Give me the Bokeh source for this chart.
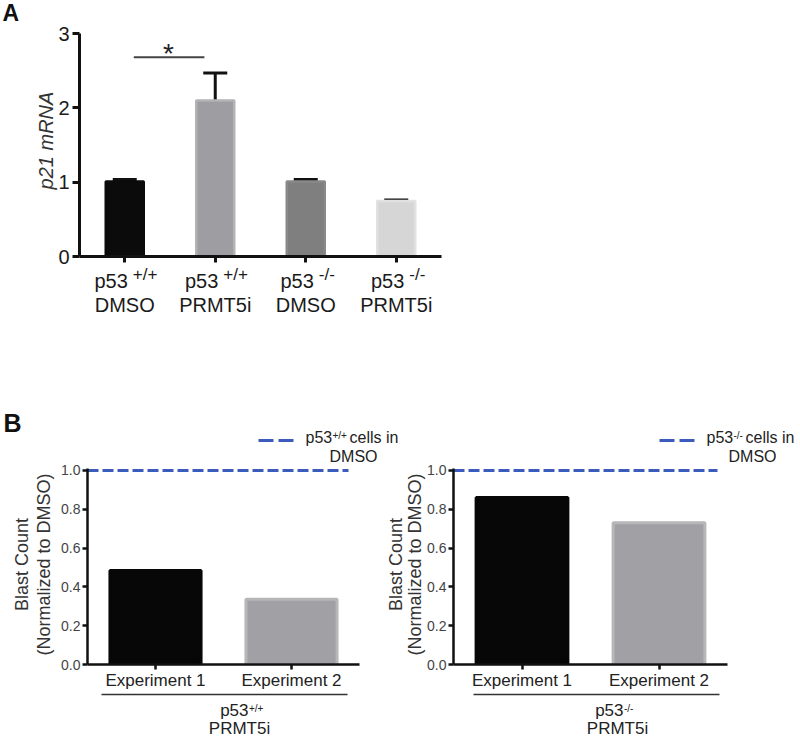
import numpy as np
from bokeh.plotting import figure
from bokeh.models import (Range1d, Whisker, TeeHead, FixedTicker,
                          PrintfTickFormatter, ColumnDataSource)
from bokeh.core.properties import value
from bokeh.layouts import column, row
from bokeh.embed import file_html
from bokeh.resources import INLINE

# ---------------- data ----------------
a_genotypes = ["+/+", "+/+", "-/-", "-/-"]
a_treatments = ["DMSO", "PRMT5i", "DMSO", "PRMT5i"]
a_values = [1.01, 2.10, 1.01, 0.745]
a_errors = [0.025, 0.37, 0.025, 0.015]
a_yticks = [0, 1, 2, 3]
a_ylabel = "p21 mRNA"
a_sig_pair = [0, 1]
a_sig_y = 2.68
a_sig_text = "*"

b_experiments = ["Experiment 1", "Experiment 2"]
b_wt_values = [0.485, 0.336]
b_ko_values = [0.861, 0.731]
b_dmso_level = 1.0
b_yticks = [0.0, 0.2, 0.4, 0.6, 0.8, 1.0]
b_ylabel = ["Blast Count", "(Normalized to DMSO)"]
b_genotypes = ["+/+", "-/-"]
b_treatment = "PRMT5i"
b_legend_text = "cells in"
b_legend_text2 = "DMSO"

# ---------------- styles ----------------
FONT = "Liberation Sans"
BLUE = "#3c5cbd"
a_fill = ["#0b0b0b", "#9e9ea2", "#7e7f7e", "#d6d6d6"]
a_edge = ["#0b0b0b", "#b3b3b5", "#888988", "#e1e1e1"]
b_fill = ["#070707", "#a1a1a5"]
b_edge = ["#070707", "#b7b7b9"]

TOTAL_W = 798


def style_axes(p, lw, tick_out, label_color, standoff_x, standoff_y):
    p.xgrid.visible = False
    p.ygrid.visible = False
    p.outline_line_color = None
    for ax in (p.xaxis[0], p.yaxis[0]):
        ax.axis_line_width = lw
        ax.axis_line_color = "#111111"
        ax.major_tick_line_width = lw
        ax.major_tick_line_color = "#111111"
        ax.major_tick_out = tick_out
        ax.major_tick_in = 0
        ax.minor_tick_line_color = None
        ax.major_label_text_font = FONT
        ax.major_label_text_color = label_color
    p.xaxis.major_label_standoff = standoff_x
    p.yaxis.major_label_standoff = standoff_y


def txt(p, x, ypx, yconv, text, size, color="#1a1a1a", align="left", baseline="alphabetic",
        angle=0.0, style="normal"):
    """ypx: page pixel y of the baseline (alphabetic) or of the middle (middle)."""
    if baseline == "alphabetic":
        ypx = ypx - 0.35 * size
    p.text(x=[x], y=[yconv(ypx)], text=[text], text_font=value(FONT),
           text_font_size=value(f"{size}px"), text_color=color,
           text_align=value(align), text_baseline=value("middle"),
           angle=angle, text_font_style=value(style), level="overlay")


def hline(p, x0, x1, y, color, width, dash="solid"):
    p.segment(x0=[x0], x1=[x1], y0=[y], y1=[y], line_color=color, line_width=width,
              line_dash=dash, level="overlay")


# ================= Panel A =================
A_H = 350
fa = dict(left=79, top=33, right=441, bottom=256)   # frame in page px
nA = len(a_values)
pA = figure(width=TOTAL_W, height=A_H,
            x_range=Range1d(-0.5, nA - 0.5), y_range=Range1d(0, max(a_yticks)),
            output_backend="svg", toolbar_location=None,
            min_border_left=fa["left"], min_border_top=fa["top"],
            min_border_right=TOTAL_W - fa["right"],
            min_border_bottom=A_H - fa["bottom"],
            background_fill_color="white", border_fill_color="white")
sxA = (fa["right"] - fa["left"]) / nA
syA = (fa["bottom"] - fa["top"]) / max(a_yticks)


def ax_(px):
    return -0.5 + (px - fa["left"]) / sxA


def ay_(py):
    return (fa["bottom"] - py) / syA


xa = list(range(nA))
srcA = ColumnDataSource(dict(x=xa, top=a_values,
                             upper=[v + e for v, e in zip(a_values, a_errors)],
                             fill=a_fill, edge=a_edge))
pA.vbar(x="x", top="top", width=0.42, fill_color="fill", line_color="edge",
        line_width=2.5, source=srcA)
pA.add_layout(Whisker(source=srcA, base="x", lower="top", upper="upper",
                      line_width=3, line_color="#111111",
                      upper_head=TeeHead(size=24, line_width=3, line_color="#111111"),
                      lower_head=None))

style_axes(pA, 3, 7, "#1a1a1a", 31, 3)
pA.yaxis.ticker = FixedTicker(ticks=a_yticks)
pA.xaxis.ticker = FixedTicker(ticks=xa)
pA.xaxis.major_tick_out = 6
pA.xaxis.major_label_text_font_size = "20px"
pA.yaxis.major_label_text_font_size = "20px"
pA.xaxis.major_label_overrides = {i: t for i, t in zip(xa, a_treatments)}

# genotype labels "p53" + superscript
for i, g in zip(xa, a_genotypes):
    off = 3 if g == "+/+" else 8
    txt(pA, i + off / sxA, 287, ay_, "p53", 20, align="right")
    txt(pA, i + (off + 5) / sxA, 280, ay_, g, 17, align="left")

# significance bar
i0, i1 = a_sig_pair
pA.segment(x0=[i0 + 0.1], x1=[i1 - 0.12], y0=[a_sig_y], y1=[a_sig_y],
           line_color="#444444", line_width=2)
txt(pA, ax_(168), 53, ay_, a_sig_text, 28, color="#222222", align="center",
    baseline="middle")

# y label and panel letter
txt(pA, ax_(45), 140, ay_, a_ylabel, 20, color="#333333", align="center",
    baseline="middle", angle=np.pi / 2, style="italic")
txt(pA, ax_(2), 21, ay_, "A", 23, color="#111111", style="bold")

# ================= Panel B =================
B_H = 389
B_TOP = A_H               # page y of the B row
F_BOTTOM = 664            # page y of value 0
F_TOP = 468               # page y of frame top
YMAX = 1.01
syB = (F_BOTTOM - F_TOP) / YMAX
SPLIT = 404

b_layouts = [
    dict(values=b_wt_values, geno=b_genotypes[0], fig_left=0, width=SPLIT,
         f_left=87, f_right=359, ref_end=348, dash=(258, 293), leg_x=305, leg_sup=332,
         leg_txt=349, leg_dmso=353, yl=(21, 43), gline=(101, 347), g_p53=248, g_prmt=239,
         letter=True),
    dict(values=b_ko_values, geno=b_genotypes[1], fig_left=SPLIT, width=TOTAL_W - SPLIT,
         f_left=453, f_right=727, ref_end=717, dash=(659, 697), leg_x=706, leg_sup=733,
         leg_txt=745, leg_dmso=752, yl=(395, 414), gline=(473, 719), g_p53=623, g_prmt=617,
         letter=False),
]

b_figs = []
nB = len(b_experiments)
for L in b_layouts:
    w = L["width"]
    p = figure(width=w, height=B_H, x_range=Range1d(-0.5, nB - 0.5), y_range=Range1d(0, YMAX),
               output_backend="svg", toolbar_location=None,
               min_border_left=L["f_left"] - L["fig_left"],
               min_border_right=w - (L["f_right"] - L["fig_left"]),
               min_border_top=F_TOP - B_TOP, min_border_bottom=B_H - (F_BOTTOM - B_TOP),
               background_fill_color=None, border_fill_color=None)
    L["fig"] = p
    L["sx"] = (L["f_right"] - L["f_left"]) / nB
    b_figs.append(p)


def bx(L, px):
    return -0.5 + (px - L["f_left"]) / L["sx"]


def by(py):
    return (F_BOTTOM - py) / syB


for k, L in enumerate(b_layouts):
    p = L["fig"]
    xb = list(range(nB))
    p.vbar(x=xb, top=L["values"], width=0.67, fill_color=b_fill, line_color=b_edge,
           line_width=3)
    p.segment(x0=[-0.5], x1=[bx(L, L["ref_end"])], y0=[b_dmso_level], y1=[b_dmso_level],
              line_color=BLUE, line_width=3, line_dash="11 4")

    style_axes(p, 2.5, 5, "#444444", 1, 2)
    p.yaxis.ticker = FixedTicker(ticks=b_yticks)
    p.yaxis.formatter = PrintfTickFormatter(format="%.1f")
    p.yaxis.major_label_text_font_size = "14px"
    p.xaxis.ticker = FixedTicker(ticks=xb)
    p.xaxis.major_label_overrides = {i: t for i, t in zip(xb, b_experiments)}
    p.xaxis.major_label_text_font_size = "17px"
    p.xaxis.major_label_text_color = "#222222"

    # legend
    hline(p, bx(L, L["dash"][0]), bx(L, L["dash"][1]), by(440), BLUE, 3, "15 5")
    txt(p, bx(L, L["leg_x"]), 443, by, "p53", 16, color="#222222")
    txt(p, bx(L, L["leg_sup"]), 438, by, L["geno"], 10, color="#222222")
    txt(p, bx(L, L["leg_txt"]), 443, by, b_legend_text, 16, color="#222222")
    txt(p, bx(L, L["leg_dmso"]), 462, by, b_legend_text2, 16, color="#222222", align="center")

    # y-axis label (two lines); the outer line of the right panel lies on the left canvas
    for j, (cx, t) in enumerate(zip(L["yl"], b_ylabel)):
        host = L if not (k == 1 and j == 0) else b_layouts[0]
        txt(host["fig"], bx(host, cx), 564, by, t, 18, color="#333333", align="center",
            baseline="middle", angle=np.pi / 2)

    # group label below
    hline(p, bx(L, L["gline"][0]), bx(L, L["gline"][1]), by(694), "#333333", 1.5)
    txt(p, bx(L, L["g_p53"]), 716, by, "p53", 17, color="#222222", align="right")
    txt(p, bx(L, L["g_p53"] + 0.5), 711, by, L["geno"], 10, color="#222222")
    txt(p, bx(L, L["g_prmt"]), 734, by, b_treatment, 17, color="#222222", align="center")

    if L["letter"]:
        txt(p, bx(L, 3), 431, by, "B", 25, color="#111111", style="bold")

layout = column(pA, row(*b_figs, spacing=0), spacing=0)
open("out.html", "w").write(file_html(layout, INLINE))
